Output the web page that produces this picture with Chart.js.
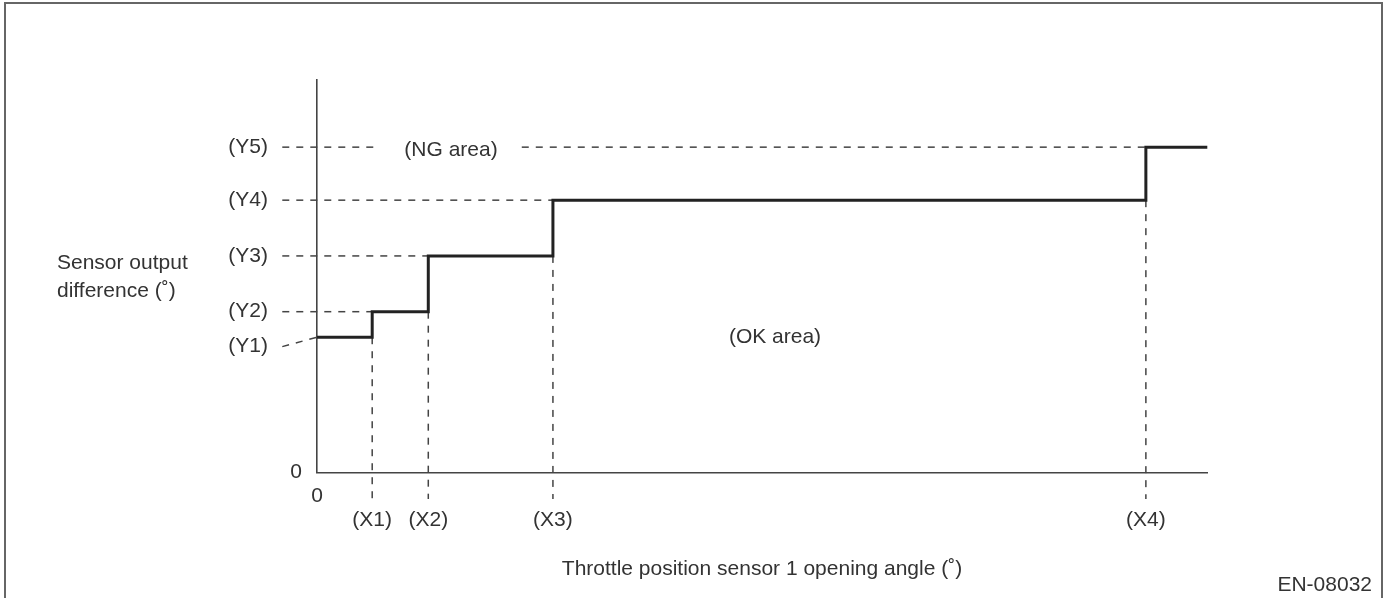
<!DOCTYPE html>
<html>
<head>
<meta charset="utf-8">
<script src="https://cdn.jsdelivr.net/npm/chart.js@4/dist/chart.umd.min.js"></script>
<style>
  body { margin: 0; background: #fff; }
  #wrap { width: 1386px; height: 598px; }
</style>
</head>
<body>
<div id="wrap"><canvas id="StepChart" width="1386" height="598"></canvas></div>
<script>
// threshold levels (Y1..Y5) and opening-angle breakpoints (X1..X4), schematic units
const yLevels = [34.5, 41.0, 55.2, 69.4, 82.9];
const yLabels = ['(Y1)', '(Y2)', '(Y3)', '(Y4)', '(Y5)'];
const xSteps = [6.2, 12.5, 26.5, 93.1];
const xLabels = ['(X1)', '(X2)', '(X3)', '(X4)'];
const xMax = 100;
const yMax = 100;

// where the dashed guides start/stop (data units)
const guideStartX = -3.9;
const y1LeaderY = 32.1;
const guideBottomY = -6.7;
const ngGap = [7.1, 23.0];

const inkColor = '#222';
const guideColor = '#444';
const textColor = '#333';
const font = '21px "Liberation Sans", Arial, sans-serif';

// limit line: stepped from Y1 up to Y5
const stepData = [{ x: 0, y: yLevels[0] }];
for (var i = 0; i < xSteps.length; i++) {
    stepData.push({ x: xSteps[i], y: yLevels[i + 1] });
}
stepData.push({ x: xMax, y: yLevels[yLevels.length - 1] });

function guide(points) {
    return {
        data: points,
        borderColor: guideColor,
        borderWidth: 1.5,
        borderDash: [7, 7],
        pointRadius: 0,
        fill: false,
        clip: false,
        order: 2
    };
}

const datasets = [{
    data: stepData,
    stepped: 'before',
    borderColor: inkColor,
    borderWidth: 3,
    pointRadius: 0,
    fill: false,
    clip: false,
    order: 1
}];

// Y1 leader
datasets.push(guide([{ x: guideStartX, y: y1LeaderY }, { x: 0, y: yLevels[0] }]));
// Y2..Y4 horizontal guides up to the step
for (var k = 1; k < 4; k++) {
    datasets.push(guide([{ x: guideStartX, y: yLevels[k] }, { x: xSteps[k - 1], y: yLevels[k] }]));
}
// Y5 guide, broken by the "(NG area)" label
datasets.push(guide([{ x: guideStartX, y: yLevels[4] }, { x: ngGap[0], y: yLevels[4] }]));
datasets.push(guide([{ x: ngGap[1], y: yLevels[4] }, { x: xSteps[3], y: yLevels[4] }]));
// vertical guides from each step down past the x axis
for (var j = 0; j < xSteps.length; j++) {
    datasets.push(guide([{ x: xSteps[j], y: yLevels[j] }, { x: xSteps[j], y: guideBottomY }]));
}

const textPlugin = {
    id: 'textPlugin',
    afterDraw(chart) {
        const ctx = chart.ctx;
        const xs = chart.scales.x;
        const ys = chart.scales.y;
        ctx.save();

        // outer frame
        ctx.strokeStyle = '#666';
        ctx.lineWidth = 2;
        ctx.beginPath();
        ctx.moveTo(5, 600);
        ctx.lineTo(5, 3);
        ctx.lineTo(1382, 3);
        ctx.lineTo(1382, 600);
        ctx.stroke();

        ctx.fillStyle = textColor;
        ctx.font = font;
        ctx.textBaseline = 'middle';

        // y labels
        ctx.textAlign = 'right';
        for (var i = 0; i < yLabels.length; i++) {
            var yy = i === 0 ? ys.getPixelForValue(y1LeaderY) : ys.getPixelForValue(yLevels[i]);
            ctx.fillText(yLabels[i], 268, yy);
        }
        ctx.fillText('0', 302, ys.getPixelForValue(0));

        // x labels
        ctx.textAlign = 'center';
        ctx.fillText('0', xs.getPixelForValue(0), 496);
        for (var k = 0; k < xLabels.length; k++) {
            ctx.fillText(xLabels[k], xs.getPixelForValue(xSteps[k]), 520);
        }

        // area labels
        ctx.fillText('(NG area)', xs.getPixelForValue((ngGap[0] + ngGap[1]) / 2), ys.getPixelForValue(yLevels[4]) + 3);
        ctx.fillText('(OK area)', 775, 337);

        // axis titles
        ctx.fillText('Throttle position sensor 1 opening angle (˚)', 762, 569);
        ctx.textAlign = 'left';
        ctx.fillText('Sensor output', 57, 263);
        ctx.fillText('difference (˚)', 57, 291);

        ctx.textAlign = 'right';
        ctx.fillText('EN-08032', 1372, 585);
        ctx.restore();
    }
};

const stepChart = new Chart(document.getElementById('StepChart').getContext('2d'), {
    type: 'line',
    data: { datasets: datasets },
    options: {
        responsive: false,
        animation: false,
        events: [],
        layout: {
            autoPadding: false,
            padding: { left: 309, top: 80, right: 178.7, bottom: 117.3 }
        },
        plugins: {
            legend: { display: false },
            tooltip: { enabled: false }
        },
        scales: {
            x: {
                type: 'linear',
                min: 0,
                max: xMax,
                ticks: { display: false },
                grid: { display: false },
                border: { display: true, color: '#444', width: 1.6 }
            },
            y: {
                type: 'linear',
                min: 0,
                max: yMax,
                ticks: { display: false },
                grid: { display: false },
                border: { display: true, color: '#444', width: 1.6 }
            }
        }
    },
    plugins: [textPlugin]
});
</script>
</body>
</html>
